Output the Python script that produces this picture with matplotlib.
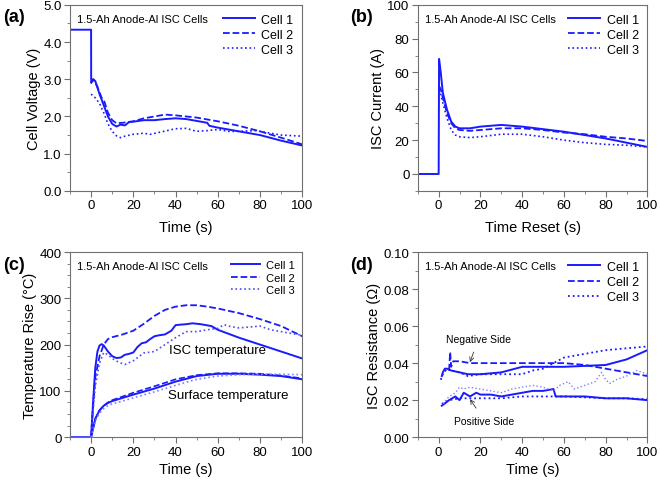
import numpy as np
import matplotlib
matplotlib.use("Agg")
import matplotlib.pyplot as plt
from matplotlib.ticker import MultipleLocator, FormatStrFormatter

plt.rcParams['font.family'] = ['Liberation Sans', 'DejaVu Sans']

blue = '#1a1aff'
light = '#7f7fff'

# ---- (a) cell voltage ----
va_t1 = [-10, 0, 0.05, 1, 2, 4, 6, 8, 10, 12, 14, 16, 18, 20, 25, 30, 35, 40, 45, 50, 55, 56, 60, 70, 80, 90, 100]
va_v1 = [4.33, 4.33, 2.9, 3.0, 2.95, 2.6, 2.3, 2.0, 1.8, 1.73, 1.78, 1.76, 1.85, 1.86, 1.9, 1.9, 1.93, 1.95, 1.93, 1.88, 1.83, 1.75, 1.7, 1.6, 1.5, 1.35, 1.22]
va_t2 = [0, 1, 3, 5, 6, 8, 10, 12, 15, 20, 25, 30, 35, 40, 45, 50, 60, 70, 80, 90, 100]
va_v2 = [2.9, 3.0, 2.8, 2.5, 2.45, 2.1, 1.9, 1.82, 1.83, 1.87, 1.95, 2.0, 2.05, 2.03, 2.0, 1.97, 1.87, 1.75, 1.6, 1.43, 1.25]
va_t3 = [0, 2, 4, 6, 8, 10, 12, 14, 16, 20, 25, 28, 32, 36, 40, 45, 50, 55, 60, 65, 70, 78, 85, 90, 100]
va_v3 = [2.6, 2.5, 2.35, 2.1, 1.8, 1.6, 1.48, 1.43, 1.47, 1.52, 1.55, 1.52, 1.57, 1.62, 1.67, 1.68, 1.6, 1.62, 1.65, 1.6, 1.6, 1.62, 1.55, 1.5, 1.47]

# ---- (b) ISC current ----
ib_t1 = [-10, 0, 0.2, 1, 2, 4, 6, 8, 10, 15, 20, 30, 40, 50, 60, 70, 80, 90, 100]
ib_i1 = [0, 0, 68, 60, 48, 38, 31, 28, 27, 27, 28, 29, 28, 26.5, 25, 23, 21, 18.5, 16]
ib_t2 = [0.2, 1, 2, 4, 6, 8, 10, 15, 20, 30, 40, 50, 60, 70, 80, 90, 100]
ib_i2 = [52, 50, 45, 36, 30, 27, 26, 25.5, 26, 27, 27, 26, 24.5, 23.5, 22, 21, 19.5]
ib_t3 = [0.2, 1, 2, 4, 6, 8, 10, 15, 20, 30, 40, 50, 60, 70, 80, 90, 100]
ib_i3 = [50, 47, 42, 33, 26, 23, 22, 21.5, 22, 23.5, 23.5, 22, 20, 18.5, 17.5, 17, 16]

# ---- (c) temperature rise ----
tc_t1 = [-10, 0, 1, 2, 3, 4, 5, 6, 8, 10, 12, 14, 16, 18, 20, 22, 24, 26, 28, 30, 32, 35, 38, 40, 42, 45, 48, 52, 57, 60, 70, 80, 90, 100]
tc_isc1 = [0, 0, 80, 150, 185, 198, 201, 198, 185, 175, 171, 172, 178, 180, 183, 195, 203, 205, 212, 218, 220, 222, 230, 242, 243, 244, 246, 244, 240, 232, 215, 200, 185, 170]
tc_t2 = [0, 1, 2, 4, 6, 8, 10, 15, 20, 25, 30, 35, 40, 45, 50, 55, 60, 70, 80, 90, 100]
tc_isc2 = [0, 70, 130, 175, 200, 212, 216, 222, 230, 245, 262, 275, 282, 285, 285, 282, 278, 268, 255, 240, 218]
tc_t3 = [0, 1, 2, 4, 6, 8, 10, 13, 16, 20, 25, 30, 35, 40, 45, 50, 55, 60, 63, 65, 70, 75, 80, 85, 90, 100]
tc_isc3 = [0, 60, 110, 160, 183, 178, 170, 162, 157, 165, 182, 185, 200, 215, 228, 228, 232, 235, 243, 240, 236, 238, 240, 232, 228, 220]
ts_t = [0, 2, 4, 6, 8, 10, 15, 20, 30, 40, 50, 60, 70, 80, 90, 100]
ts_s1 = [0, 40, 58, 68, 74, 78, 85, 92, 105, 120, 132, 137, 137, 135, 132, 125]
ts_s2 = [0, 40, 58, 68, 75, 80, 88, 96, 110, 125, 134, 138, 138, 137, 133, 127]
ts_s3 = [0, 35, 52, 62, 68, 72, 78, 85, 98, 112, 125, 132, 135, 136, 136, 135]

# ---- (d) ISC resistance ----
rn_t1 = [1.5, 2, 3, 4, 6, 10, 14, 20, 30, 40, 50, 60, 70, 80, 90, 100]
rn_r1 = [0.033, 0.035, 0.037, 0.037, 0.036, 0.035, 0.034, 0.034, 0.035, 0.038, 0.038, 0.038, 0.0385, 0.039, 0.042, 0.047]
rn_t2 = [5, 5.5, 6, 7, 10, 15, 20, 30, 40, 50, 60, 70, 80, 90, 100]
rn_r2 = [0.036, 0.046, 0.038, 0.041, 0.041, 0.040, 0.040, 0.040, 0.040, 0.040, 0.040, 0.039, 0.037, 0.035, 0.033]
rn_t3 = [1, 2, 4, 6, 10, 14, 20, 30, 35, 40, 45, 50, 55, 60, 70, 80, 90, 100]
rn_r3 = [0.031, 0.034, 0.037, 0.036, 0.035, 0.033, 0.034, 0.034, 0.034, 0.034, 0.036, 0.037, 0.040, 0.043, 0.045, 0.047, 0.048, 0.049]
rp_t1 = [1.5, 5, 8, 10, 12, 15, 18, 20, 25, 30, 35, 40, 45, 50, 55, 56, 60, 70, 80, 90, 100]
rp_r1 = [0.017, 0.020, 0.022, 0.020, 0.024, 0.022, 0.024, 0.023, 0.023, 0.022, 0.023, 0.024, 0.025, 0.025, 0.026, 0.022, 0.022, 0.022, 0.021, 0.021, 0.020]
rp_t2 = [1.5, 5, 10, 20, 30, 40, 50, 60, 70, 80, 90, 100]
rp_r2 = [0.018, 0.020, 0.021, 0.021, 0.021, 0.022, 0.022, 0.022, 0.0215, 0.021, 0.021, 0.0205]
rp_t3 = [2, 5, 8, 10, 12, 15, 20, 25, 30, 35, 40, 45, 50, 55, 58, 62, 65, 70, 75, 78, 80, 82, 85, 90, 95, 100]
rp_r3 = [0.018, 0.022, 0.024, 0.027, 0.026, 0.027, 0.026, 0.025, 0.024, 0.026, 0.027, 0.028, 0.027, 0.025, 0.028, 0.030, 0.026, 0.028, 0.030, 0.035, 0.031, 0.029, 0.031, 0.033, 0.036, 0.034]

fig = plt.figure(figsize=(6.6, 4.81), dpi=100)
ax_a = fig.add_axes([0.106, 0.601, 0.352, 0.387])
ax_b = fig.add_axes([0.633, 0.601, 0.348, 0.387])
ax_c = fig.add_axes([0.106, 0.089, 0.352, 0.385])
ax_d = fig.add_axes([0.633, 0.089, 0.348, 0.385])

title = '1.5-Ah Anode-Al ISC Cells'


def style(ax, ylim, ymaj, letter, xlabel, ylabel, xpad):
    ax.set_xlim(-10, 100)
    ax.set_ylim(*ylim)
    ax.xaxis.set_major_locator(MultipleLocator(20))
    ax.xaxis.set_minor_locator(MultipleLocator(10))
    ax.yaxis.set_major_locator(MultipleLocator(ymaj))
    ax.yaxis.set_minor_locator(MultipleLocator(ymaj / 2))
    for s in ax.spines.values():
        s.set_color('#707070')
        s.set_linewidth(0.8)
    ax.tick_params(which='both', direction='out', color='#707070', labelsize=9.5, pad=2)
    ax.tick_params(which='major', length=4)
    ax.tick_params(which='minor', length=2.5)
    ax.set_xlabel(xlabel, fontsize=10.5, labelpad=xpad)
    ax.set_ylabel(ylabel, fontsize=10.5, labelpad=1.5)
    ax.text(0.03, 0.95, title, transform=ax.transAxes, fontsize=8, va='top', ha='left')
    fig.text(ax.get_position().x0 - 0.102, ax.get_position().y1 - 0.025, letter,
             fontsize=13, fontweight='bold', ha='left', va='center')


# (a)
ax_a.plot(va_t1, va_v1, '-', color=blue, lw=1.4, label='Cell 1')
ax_a.plot(va_t2, va_v2, '--', color=blue, lw=1.3, label='Cell 2')
ax_a.plot(va_t3, va_v3, ':', color=blue, lw=1.2, label='Cell 3')
style(ax_a, (0, 5), 1.0, '(a)', 'Time (s)', 'Cell Voltage (V)', 6)
ax_a.yaxis.set_major_formatter(FormatStrFormatter('%.1f'))

# (b)
ax_b.plot(ib_t1, ib_i1, '-', color=blue, lw=1.4, label='Cell 1')
ax_b.plot(ib_t2, ib_i2, '--', color=blue, lw=1.3, label='Cell 2')
ax_b.plot(ib_t3, ib_i3, ':', color=blue, lw=1.2, label='Cell 3')
style(ax_b, (-10, 100), 20, '(b)', 'Time Reset (s)', 'ISC Current (A)', 6)
ax_b.yaxis.set_minor_locator(MultipleLocator(10))

# (c)
ax_c.plot(tc_t1, tc_isc1, '-', color=blue, lw=1.4, label='Cell 1')
ax_c.plot(tc_t2, tc_isc2, '--', color=blue, lw=1.3, label='Cell 2')
ax_c.plot(tc_t3, tc_isc3, ':', color='#4a4aff', lw=1.2, label='Cell 3')
ax_c.plot(ts_t, ts_s1, '-', color=blue, lw=1.4)
ax_c.plot(ts_t, ts_s2, '--', color=blue, lw=1.2)
ax_c.plot(ts_t, ts_s3, ':', color=light, lw=1.2)
ax_c.text(60, 188, 'ISC temperature', fontsize=9.5, ha='center', va='center')
ax_c.text(65, 91, 'Surface temperature', fontsize=9.5, ha='center', va='center')
style(ax_c, (0, 400), 100, '(c)', 'Time (s)', 'Temperature Rise (\u00b0C)', 3.5)
ax_c.yaxis.set_minor_locator(MultipleLocator(25))

# (d)
ax_d.plot(rn_t1, rn_r1, '-', color=blue, lw=1.4, label='Cell 1')
ax_d.plot(rn_t2, rn_r2, '--', color=blue, lw=1.3, label='Cell 2')
ax_d.plot(rn_t3, rn_r3, ':', color=blue, lw=1.3, label='Cell 3')
ax_d.plot(rp_t1, rp_r1, '-', color=blue, lw=1.4)
ax_d.plot(rp_t2, rp_r2, ':', color=blue, lw=1.3)
ax_d.plot(rp_t3, rp_r3, ':', color=light, lw=1.0)
ax_d.annotate('Negative Side', xy=(15, 0.0405), xytext=(19, 0.053), fontsize=7.5,
              ha='center', va='center',
              arrowprops=dict(arrowstyle='->', color='#333333', lw=0.6, shrinkA=4, shrinkB=0))
ax_d.annotate('Positive Side', xy=(15, 0.0205), xytext=(22, 0.009), fontsize=7.5,
              ha='center', va='center',
              arrowprops=dict(arrowstyle='->', color='#333333', lw=0.6, shrinkA=4, shrinkB=0))
style(ax_d, (0, 0.10), 0.02, '(d)', 'Time (s)', 'ISC Resistance (\u03a9)', 3.5)
ax_d.yaxis.set_major_formatter(FormatStrFormatter('%.2f'))

for ax, fs in [(ax_a, 9), (ax_b, 9), (ax_c, 8), (ax_d, 9)]:
    ax.legend(loc='upper right', frameon=False, fontsize=fs, handlelength=2.6,
              labelspacing=0.25, borderaxespad=0.3, handletextpad=0.5)

fig.savefig('out.png', dpi=100)
